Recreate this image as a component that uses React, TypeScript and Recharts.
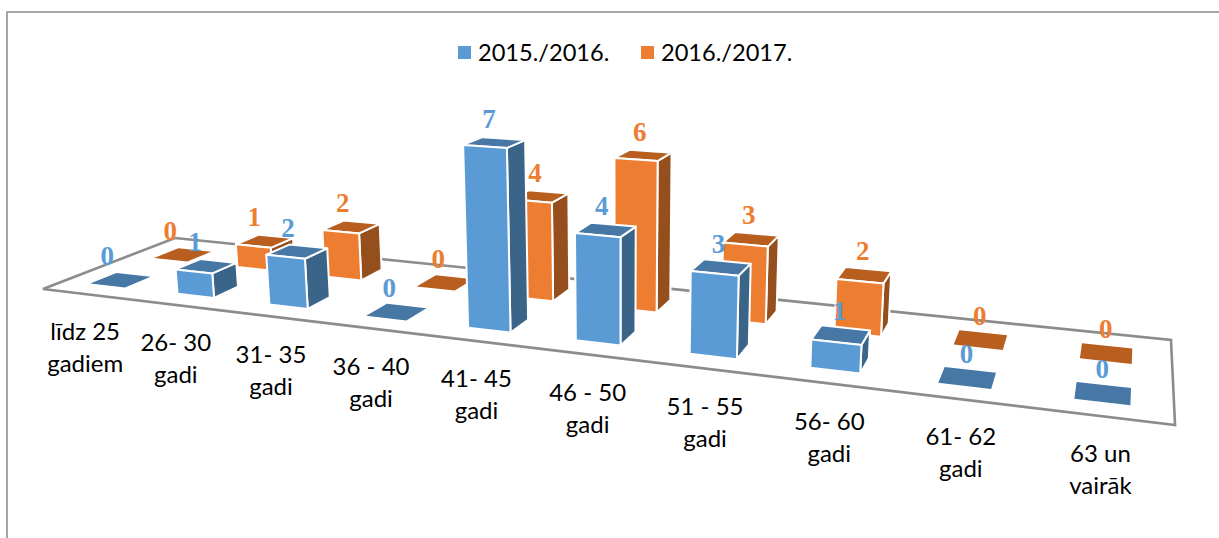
import { Bar, ComposedChart, Legend, Line, XAxis, YAxis } from 'recharts'

const categories = [
  'līdz 25 gadiem',
  '26- 30 gadi',
  '31- 35 gadi',
  '36 - 40 gadi',
  '41- 45 gadi',
  '46 - 50 gadi',
  '51 - 55 gadi',
  '56- 60 gadi',
  '61- 62 gadi',
  '63 un vairāk',
]
const values2016 = [0, 1, 2, 0, 7, 4, 3, 1, 0, 0]
const values2017 = [0, 1, 2, 0, 4, 6, 3, 2, 0, 0]

const data = categories.map((name, i) => ({
  name,
  a: values2016[i],
  b: values2017[i],
}))

const WIDTH = 1219
const HEIGHT = 538
const PLOT_LEFT = 100
const PLOT_WIDTH = 1000
const PLOT_TOP = 100
const PLOT_HEIGHT = 192 // 24px per unit, domain 0-8
const AXIS_HEIGHT = 30
const BAR_SIZE = 40

const BLUE = { front: '#5B9BD5', top: '#4677A5', side: '#3B6489', v0: 0.15, v1: 0.34 }
const ORANGE = { front: '#ED7D31', top: '#B85F20', side: '#954F1C', v0: 0.63, v1: 0.83 }

// floor plane of the 3D chart: unit square -> screen quad
function floor(u: number, v: number) {
  const w = 1 - 0.2373 * u + 0.1356 * v
  return {
    x: (853.2 * u + 155.7 * v + 43) / w,
    y: (35.15 * u - 18.73 * v + 289) / w,
    w,
  }
}

function lift(u: number, v: number, h: number) {
  const { x, y, w } = floor(u, v)
  const s = h / w
  return [x + (x - 620) * 0.00018 * s, y - s]
}

const pts = (list: number[][]) => list.map((p) => p.join(',')).join(' ')

function Box3D({ x, width, height, look }: any) {
  // the reference row bows a little to the left in the middle
  const mid = (x + width / 2 - PLOT_LEFT) / PLOT_WIDTH
  const nudge = -0.014 * mid * (1 - mid)
  const u0 = (x - PLOT_LEFT) / PLOT_WIDTH + nudge
  const u1 = (x + width - PLOT_LEFT) / PLOT_WIDTH + nudge
  const { v0, v1 } = look
  const h = height || 0
  const top = pts([lift(u0, v0, h), lift(u1, v0, h), lift(u1, v1, h), lift(u0, v1, h)])
  if (h === 0) return <polygon points={top} fill={look.top} />
  const line = { stroke: '#fff', strokeWidth: 2, strokeLinejoin: 'round' as const }
  return (
    <g>
      <polygon
        points={pts([lift(u1, v0, 0), lift(u1, v1, 0), lift(u1, v1, h), lift(u1, v0, h)])}
        fill={look.side}
        {...line}
      />
      <polygon points={top} fill={look.top} {...line} />
      <polygon
        points={pts([lift(u0, v0, 0), lift(u1, v0, 0), lift(u1, v0, h), lift(u0, v0, h)])}
        fill={look.front}
        {...line}
      />
    </g>
  )
}

function ValueLabel({ cx, cy, payload, dataKey, look }: any) {
  const u = (cx - PLOT_LEFT) / PLOT_WIDTH
  const h = PLOT_TOP + PLOT_HEIGHT - cy
  const [px, py] = lift(u, (look.v0 + look.v1) / 2, h)
  return (
    <text
      x={px - (1150 - px) * 0.0125 - 1}
      y={py - 15}
      textAnchor="middle"
      fontFamily="Liberation Serif"
      fontWeight="bold"
      fontSize={27}
      fill={look.front}
    >
      {payload[dataKey]}
    </text>
  )
}

function CategoryTick({ x, payload }: any) {
  const p = floor((x - PLOT_LEFT) / PLOT_WIDTH, 0)
  const label: string = payload.value
  const cut = label.lastIndexOf(' ')
  return (
    <text textAnchor="middle" fontFamily="Lato" fontSize={24} fill="#000">
      <tspan x={p.x - 1.5} y={p.y + 46}>{label.slice(0, cut)}</tspan>
      <tspan x={p.x - 1.5} y={p.y + 78}>{label.slice(cut + 1)}</tspan>
    </text>
  )
}

function FloorPlane() {
  const quad = [floor(0, 0), floor(1, 0), floor(1, 1), floor(0, 1)].map((p) => [p.x, p.y])
  return <polygon points={pts(quad)} fill="none" stroke="#8C8C8C" strokeWidth={2.6} />
}

function LegendRow({ payload }: any) {
  const items = (payload || [])
    .filter((item: any) => item.type !== 'none')
    .sort((l: any, r: any) => String(l.value).localeCompare(String(r.value)))
  return (
    <div style={{ display: 'flex', alignItems: 'center', fontFamily: 'Lato', fontSize: 23.6, color: '#000', whiteSpace: 'nowrap' }}>
      {items.map((item: any) => (
        <div key={item.value} style={{ display: 'flex', alignItems: 'center', width: 183, flex: 'none' }}>
          <span style={{ width: 13, height: 13, background: item.color, marginRight: 7, flex: 'none' }} />
          {item.value}
        </div>
      ))}
    </div>
  )
}

export default function App() {
  return (
    <div style={{ position: 'absolute', left: 0, top: 0, width: WIDTH, height: HEIGHT, background: '#fff', overflow: 'hidden' }}>
      <div style={{ position: 'absolute', left: 6, top: 11, right: -4, bottom: -4, borderTop: '2px solid #A6A6A6', borderLeft: '2px solid #A6A6A6' }} />
      <ComposedChart
        width={WIDTH}
        height={HEIGHT}
        data={data}
        margin={{ top: PLOT_TOP, left: PLOT_LEFT, right: WIDTH - PLOT_LEFT - PLOT_WIDTH, bottom: HEIGHT - PLOT_TOP - PLOT_HEIGHT - AXIS_HEIGHT }}
        barSize={BAR_SIZE}
        barGap={-BAR_SIZE}
        style={{ position: 'absolute', left: 0, top: 0 }}
      >
        <FloorPlane />
        <XAxis
          dataKey="name"
          height={AXIS_HEIGHT}
          interval={0}
          axisLine={false}
          tickLine={false}
          tick={(p: any) => <CategoryTick key={p.index} {...p} />}
        />
        <YAxis hide domain={[0, 8]} />
        <Legend
          layout="horizontal"
          verticalAlign="middle"
          align="center"
          wrapperStyle={{ top: 38, left: 458, width: 370 }}
          content={(p: any) => <LegendRow {...p} />}
        />
        <Line
          dataKey="a"
          stroke="none"
          legendType="none"
          isAnimationActive={false}
          zIndex={290}
          dot={(p: any) => <ValueLabel key={p.index} {...p} dataKey="a" look={BLUE} />}
        />
        <Bar
          dataKey="b"
          name="2016./2017."
          fill={ORANGE.front}
          isAnimationActive={false}
          shape={(p: any) => <Box3D {...p} look={ORANGE} />}
        />
        <Bar
          dataKey="a"
          name="2015./2016."
          fill={BLUE.front}
          isAnimationActive={false}
          shape={(p: any) => <Box3D {...p} look={BLUE} />}
        />
        <Line
          dataKey="b"
          stroke="none"
          legendType="none"
          isAnimationActive={false}
          dot={(p: any) => <ValueLabel key={p.index} {...p} dataKey="b" look={ORANGE} />}
        />
      </ComposedChart>
    </div>
  )
}
